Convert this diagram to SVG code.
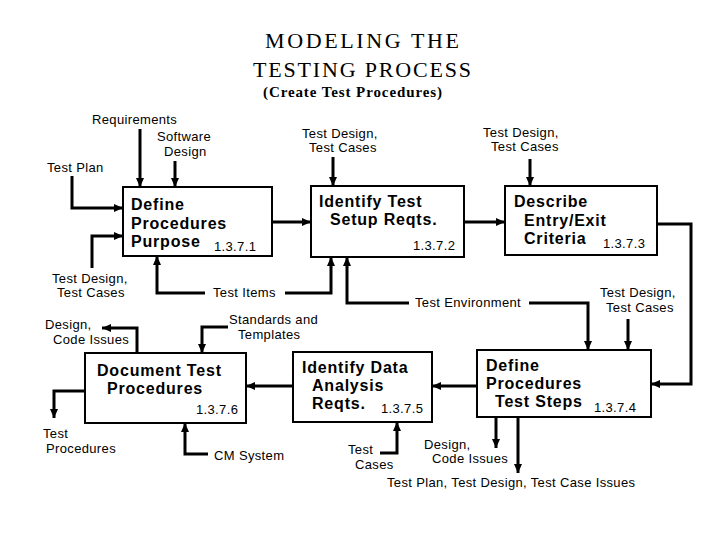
<svg xmlns="http://www.w3.org/2000/svg" width="720" height="540" viewBox="0 0 720 540">
<style>
.bg{fill:#fff}
.box{fill:#fff;stroke:#000;stroke-width:2}
.c{fill:none;stroke:#000;stroke-width:3;marker-end:url(#ah)}
.t{font-family:"Liberation Sans",Arial,sans-serif;font-size:13px;letter-spacing:0.35px;fill:#000}
.b{font-family:"Liberation Sans",Arial,sans-serif;font-size:16px;font-weight:bold;letter-spacing:0.8px;fill:#000}
.h{font-family:"Liberation Serif","Times New Roman",serif;font-size:22px;fill:#000}
.hs{font-family:"Liberation Serif","Times New Roman",serif;font-size:15px;font-weight:bold;fill:#000}
</style>
<defs>
<marker id="ah" markerUnits="userSpaceOnUse" viewBox="0 0 9 8" refX="9" refY="4" markerWidth="9" markerHeight="8" orient="auto">
<path d="M0,0 L9,4 L0,8 z" fill="#000"/>
</marker>
</defs>
<rect class="bg" x="0" y="0" width="720" height="540"/>
<g id="title">
<text class="h" x="265" y="48" textLength="194" lengthAdjust="spacing">MODELING THE</text>
<text class="h" x="253" y="77" textLength="218" lengthAdjust="spacing">TESTING PROCESS</text>
<text class="hs" x="263" y="97" textLength="179" lengthAdjust="spacing">(Create Test Procedures)</text>
</g>
<g id="connectors">
<path class="c" d="M140,129 V187"/>
<path class="c" d="M175,161 V187"/>
<path class="c" d="M72,176 V208 H123"/>
<path class="c" d="M92,268 V236 H123"/>
<path class="c" d="M205,293 H157 V256"/>
<path class="c" d="M285,293 H331 V257"/>
<path class="c" d="M272,222 H311"/>
<path class="c" d="M333,157 V186"/>
<path class="c" d="M409,303 H347 V257"/>
<path class="c" d="M529,303 H588 V350"/>
<path class="c" d="M464,222 H505"/>
<path class="c" d="M530,159 V186"/>
<path class="c" d="M657,224 H691 V384 H651"/>
<path class="c" d="M628,319 V350"/>
<path class="c" d="M477,386 H432"/>
<path class="c" d="M293,386 H246"/>
<path class="c" d="M228,327 H202 V353"/>
<path class="c" d="M137,353 V328 H102"/>
<path class="c" d="M85,391 H54 V418"/>
<path class="c" d="M208,454 H185 V423"/>
<path class="c" d="M380,453 H397 V422"/>
<path class="c" d="M496,417 V448"/>
<path class="c" d="M518,417 V473"/>
</g>
<g id="node-1371">
<rect class="box" x="123" y="187" width="149" height="69"/>
<text class="b" x="131" y="210">Define</text>
<text class="b" x="131" y="229">Procedures</text>
<text class="b" x="131" y="247">Purpose</text>
<text class="t" x="214" y="251">1.3.7.1</text>
</g>
<g id="node-1372">
<rect class="box" x="311" y="186" width="153" height="71"/>
<text class="b" x="319" y="207">Identify Test</text>
<text class="b" x="330" y="225">Setup Reqts.</text>
<text class="t" x="413" y="250">1.3.7.2</text>
</g>
<g id="node-1373">
<rect class="box" x="505" y="186" width="152" height="69"/>
<text class="b" x="514" y="207">Describe</text>
<text class="b" x="524" y="225.5">Entry/Exit</text>
<text class="b" x="524" y="244">Criteria</text>
<text class="t" x="603" y="248">1.3.7.3</text>
</g>
<g id="node-1374">
<rect class="box" x="477" y="350" width="174" height="67"/>
<text class="b" x="486" y="371">Define</text>
<text class="b" x="486" y="389">Procedures</text>
<text class="b" x="495" y="407">Test Steps</text>
<text class="t" x="594" y="412">1.3.7.4</text>
</g>
<g id="node-1375">
<rect class="box" x="293" y="352" width="139" height="70"/>
<text class="b" x="302" y="373">Identify Data</text>
<text class="b" x="312" y="391">Analysis</text>
<text class="b" x="312" y="409">Reqts.</text>
<text class="t" x="381" y="413">1.3.7.5</text>
</g>
<g id="node-1376">
<rect class="box" x="85" y="353" width="161" height="70"/>
<text class="b" x="97" y="376">Document Test</text>
<text class="b" x="107" y="394">Procedures</text>
<text class="t" x="196" y="414">1.3.7.6</text>
</g>
<g id="labels">
<text class="t" x="92" y="124">Requirements</text>
<text class="t" x="157" y="141">Software</text>
<text class="t" x="164" y="156">Design</text>
<text class="t" x="47" y="172">Test Plan</text>
<text class="t" x="52" y="283">Test Design,</text>
<text class="t" x="57" y="297">Test Cases</text>
<text class="t" x="213" y="297">Test Items</text>
<text class="t" x="302" y="138">Test Design,</text>
<text class="t" x="309" y="152">Test Cases</text>
<text class="t" x="483" y="137">Test Design,</text>
<text class="t" x="491" y="151">Test Cases</text>
<text class="t" x="415" y="307">Test Environment</text>
<text class="t" x="600" y="297">Test Design,</text>
<text class="t" x="606" y="312">Test Cases</text>
<text class="t" x="45" y="329">Design,</text>
<text class="t" x="53" y="344">Code Issues</text>
<text class="t" x="229" y="324">Standards and</text>
<text class="t" x="238" y="339">Templates</text>
<text class="t" x="43" y="438">Test</text>
<text class="t" x="46" y="453">Procedures</text>
<text class="t" x="214" y="460">CM System</text>
<text class="t" x="348" y="454">Test</text>
<text class="t" x="355" y="469">Cases</text>
<text class="t" x="424" y="449">Design,</text>
<text class="t" x="432" y="463">Code Issues</text>
<text class="t" x="387" y="487">Test Plan, Test Design, Test Case Issues</text>
</g>
</svg>
